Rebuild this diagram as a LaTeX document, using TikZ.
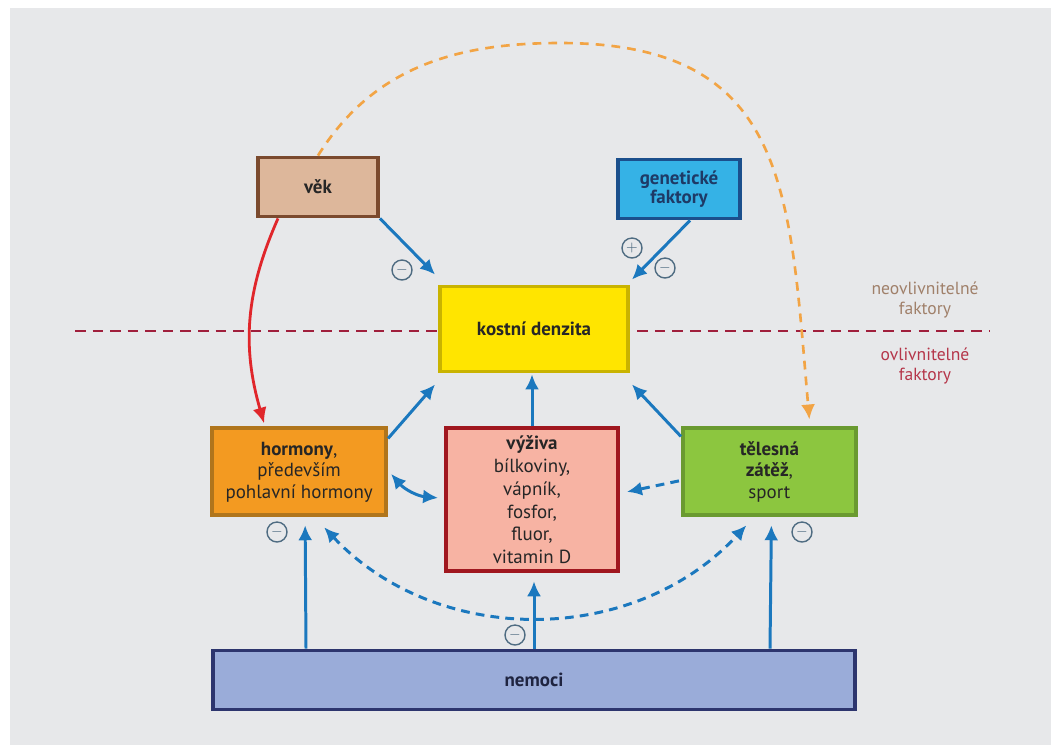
\documentclass[tikz,border=0pt]{standalone}
\usepackage{fontspec}
\setmainfont{PT Sans}
\usepackage{xcolor}
\usepackage{tikz}
\usetikzlibrary{arrows.meta, positioning, calc}
\definecolor{panelgrey}{HTML}{E7E8EA}
\definecolor{arrblue}{HTML}{1B78BE}
\definecolor{signgrey}{HTML}{4F6C82}
\definecolor{linered}{HTML}{A01F3C}
\definecolor{agered}{HTML}{E0262B}
\definecolor{ageorange}{HTML}{F2A445}

\begin{document}
\begin{tikzpicture}[
  box/.style={draw, line width=2.2pt, align=center, inner sep=2pt,
              font=\fontsize{10.8}{12.2}\selectfont, text=black!85},
  vekbox/.style={box, fill={rgb,255:red,221;green,183;blue,155}, draw={rgb,255:red,123;green,74;blue,46}},
  genbox/.style={box, fill={rgb,255:red,53;green,178;blue,230}, draw={rgb,255:red,27;green,79;blue,140},
                 text={rgb,255:red,30;green,58;blue,102}},
  densbox/.style={box, fill={rgb,255:red,255;green,229;blue,0}, draw={rgb,255:red,201;green,179;blue,0}},
  hormbox/.style={box, fill={rgb,255:red,243;green,154;blue,33}, draw={rgb,255:red,176;green,117;blue,28}},
  vyzbox/.style={box, fill={rgb,255:red,247;green,179;blue,163}, draw={rgb,255:red,160;green,23;blue,31},
                 font=\fontsize{10.8}{13}\selectfont},
  telbox/.style={box, fill={rgb,255:red,140;green,198;blue,63}, draw={rgb,255:red,106;green,154;blue,48}},
  nembox/.style={box, fill={rgb,255:red,154;green,172;blue,217}, draw={rgb,255:red,45;green,53;blue,110},
                 text={rgb,255:red,31;green,36;blue,64}},
  btip/.tip={Latex[length=8.5pt,width=8pt]},
  arr/.style={-btip, line width=1.7pt, draw=arrblue},
  dasharr/.style={arr, dash pattern=on 5pt off 3.5pt},
  sign/.style={circle, draw=signgrey, line width=0.8pt, fill=panelgrey, inner sep=0pt,
               minimum size=0.4cm, text=signgrey, font=\footnotesize},
  note/.style={align=center, font=\fontsize{10}{11.5}\selectfont},
]
\useasboundingbox (0,0) rectangle (21.02,-14.88);
\fill[white] (-0.5,0.5) rectangle (21.5,-15.4);
\fill[panelgrey] (0.2,-0.16) rectangle (21.5,-15.4);

%% --- hranice faktoru ---
\coordinate (lineL) at (1.5,-6.62);
\coordinate (lineR) at (19.8,-6.62);
\draw[linered, line width=1.5pt, dash pattern=on 6pt off 4pt] (lineL) -- (lineR);
\node[note, text={rgb,255:red,160;green,128;blue,106}] (neo) at (18.5,-6.0) {neovlivnitelné\\faktory};
\node[note, text={rgb,255:red,181;green,54;blue,74}] (ovl) at (18.5,-7.32) {ovlivnitelné\\faktory};

%% --- stred ---
\node[densbox, minimum width=3.76cm, minimum height=1.7cm] (dens) at (10.68,-6.58) {\textbf{kostní denzita}};

%% --- neovlivnitelne ---
\node[vekbox, minimum width=2.4cm, minimum height=1.18cm] (vek) at (6.36,-3.74) {\textbf{věk}};
\node[genbox, minimum width=2.44cm, minimum height=1.18cm] (gen) at (13.58,-3.78) {\textbf{genetické}\\[-1pt]\textbf{faktory}};

%% --- ovlivnitelne ---
\node[vyzbox, minimum width=3.44cm, minimum height=2.86cm, below=1.06cm of dens.south, xshift=-0.04cm] (vyz)
  {\textbf{výživa}\\bílkoviny,\\vápník,\\fosfor,\\fluor,\\vitamin D};
\node[hormbox, minimum width=3.48cm, minimum height=1.74cm, left=1.18cm of vyz.north west, anchor=north east, xshift=0.06cm] (horm)
  {\textbf{hormony},\\především\\pohlavní hormony};
\node[telbox, minimum width=3.46cm, minimum height=1.74cm, right=1.28cm of vyz.north east, anchor=north west, xshift=-0.06cm] (tel)
  {\textbf{tělesná}\\\textbf{zátěž},\\sport};
\node[nembox, minimum width=12.84cm, minimum height=1.18cm] (nem) at (10.68,-13.6) {\textbf{nemoci}};

%% --- vliv na denzitu ---
\draw[arr] (vek.south east) -- ([xshift=-0.06cm,yshift=0.2cm]dens.north west);
\draw[arr] ([xshift=0.22cm]gen.south) -- ([xshift=0.04cm,yshift=0.1cm]dens.north east);
\draw[arr] ([yshift=-0.24cm]horm.north east) -- ([xshift=-0.06cm,yshift=-0.22cm]dens.south west);
\draw[arr] (vyz.north) -- ([xshift=-0.04cm,yshift=-0.02cm]dens.south);
\draw[arr] ([yshift=-0.2cm]tel.north west) -- ([xshift=0.04cm,yshift=-0.22cm]dens.south east);

\node[sign] (s1) at (8.04,-5.4) {$-$};
\node[sign] (s2) at (12.64,-4.96) {$+$};
\node[sign] (s3) at (13.3,-5.36) {$-$};

%% --- vek ---
\draw[agered, line width=1.6pt, -{Latex[length=9pt,width=8pt]}]
  ([xshift=-0.8cm]vek.south) to[bend right=20] ([xshift=-0.7cm,yshift=0.06cm]horm.north);
\coordinate (arctop) at (11.2,-0.86);
\draw[ageorange, line width=1.5pt, dash pattern=on 5pt off 4pt, -{Latex[length=8.5pt,width=8pt]}]
  (vek.north) to[out=58,in=180] (arctop) to[out=0,in=95,looseness=1.3] ([xshift=0.8cm,yshift=0.14cm]tel.north);

%% --- vazby mezi faktory ---
\draw[arr, btip-btip]
  ([xshift=0.06cm,yshift=-0.04cm]horm.east) to[bend right=22] ([xshift=-0.12cm,yshift=0.04cm]vyz.east -| vyz.west);
\draw[dasharr] ([xshift=-0.04cm,yshift=-0.18cm]tel.west) -- ([xshift=0.14cm,yshift=0.16cm]vyz.east);
\draw[dasharr, btip-btip]
  ([xshift=0.5cm,yshift=-0.2cm]horm.south) to[bend right=47] ([xshift=-0.46cm,yshift=-0.16cm]tel.south);

%% --- nemoci ---
\draw[arr] ([xshift=-4.56cm]nem.north) -- ([xshift=0.12cm,yshift=-0.16cm]horm.south);
\draw[arr] (nem.north) -- ([xshift=0.04cm,yshift=-0.16cm]vyz.south);
\draw[arr] ([xshift=4.72cm]nem.north) -- ([xshift=0.04cm,yshift=-0.16cm]tel.south);

\node[sign] (s4) at (5.54,-10.64) {$-$};
\node[sign] (s5) at (16.04,-10.64) {$-$};
\node[sign] (s6) at (10.3,-12.7) {$-$};

\end{tikzpicture}
\end{document}
